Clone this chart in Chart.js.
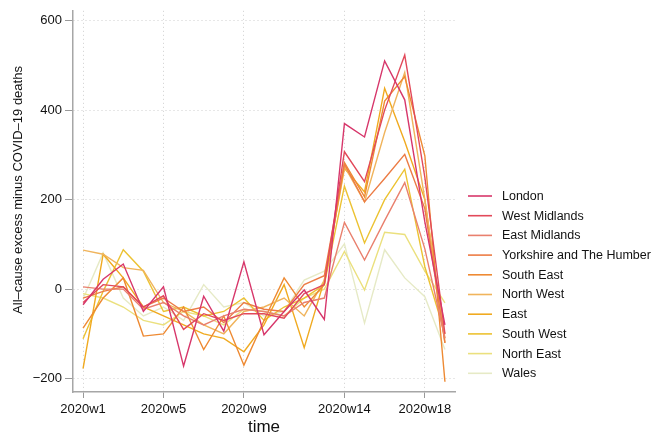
<!DOCTYPE html>
<html>
<head>
<meta charset="utf-8">
<script src="https://cdn.jsdelivr.net/npm/chart.js@4.4.1/dist/chart.umd.min.js"></script>
<style>
html,body{margin:0;padding:0;background:#fff;}
#wrap{width:660px;height:438px;position:relative;}
</style>
</head>
<body>
<div id="wrap"><canvas id="c" width="660" height="438"></canvas></div>
<script>
const weeks = [1,2,3,4,5,6,7,8,9,10,11,12,13,14,15,16,17,18,19];
const xTickValues = [1,5,9,14,18];
const yTickValues = [-200,0,200,400,600];
const yTitle = "All\u2013cause excess minus COVID\u201319 deaths";
const xTitle = "time";
const regions = ["London","West Midlands","East Midlands","Yorkshire and The Humber","South East","North West","East","South West","North East","Wales"];
const regionColors = ["#d7376b","#e2495a","#e9806e","#ec7c45","#ee8a33","#f0b45c","#f0aa20","#ecc232","#ebe07e","#e6eac6"];

const london       = [-35, 22, 56, -50, 5, -172, -16, -94, 61, -102, -50, -2, -68, 370, 340, 510, 423, 150, -80];
const westMidlands = [-30, 10, 5, -40, -15, -90, -55, -70, -55, -55, -65, -10, 10, 307, 240, 400, 523, 250, -100];
const eastMidlands = [5, 0, 0, -45, -30, -60, -80, -60, -45, -50, -60, -30, -20, 149, 65, 153, 238, 90, -110];
const yorkshire    = [-20, -5, 5, -40, -20, -50, -40, -75, -30, -45, -50, 10, 30, 280, 195, 247, 301, 180, -120];
const southEast    = [-87, -20, 25, -105, -100, -40, -135, -60, -170, -70, 25, -40, 10, 283, 206, 420, 475, 298, -207];
const northWest    = [87, 78, 48, 42, -30, -50, -80, -100, -50, -40, -20, -60, 20, 275, 195, 350, 484, 200, -110];
const east         = [-178, 78, 25, -40, -60, -80, -100, -110, -140, -80, 10, -131, 20, 270, 217, 449, 330, 200, -120];
const southWest    = [-111, -5, 88, 40, -50, -40, -60, -50, -20, -70, -40, -20, 10, 230, 103, 200, 268, 50, -100];
const northEast    = [-10, -20, -40, -70, -80, -50, -60, -80, -45, -50, -60, -20, 0, 84, -2, 127, 122, 40, -31];
const wales        = [-22, 81, -20, -60, -40, -70, 10, -40, -30, -60, -50, 20, 40, 101, -76, 88, 25, -17, -135];

const seriesValues = [london, westMidlands, eastMidlands, yorkshire, southEast, northWest, east, southWest, northEast, wales];

const FONT = "'Liberation Sans', Arial, Helvetica, sans-serif";

const datasets = regions.map((name, i) => ({
  label: name,
  data: weeks.map((w, j) => ({x: w, y: seriesValues[i][j]})),
  borderColor: regionColors[i],
  backgroundColor: regionColors[i],
  borderWidth: 1.4,
  pointRadius: 0,
  tension: 0,
  fill: false
}));

const decorPlugin = {
  id: 'decor',
  afterDraw(chart) {
    const ctx = chart.ctx;
    ctx.save();
    // legend
    ctx.font = "12.5px " + FONT;
    ctx.textBaseline = 'middle';
    ctx.textAlign = 'left';
    regions.forEach((name, i) => {
      const y = 196 + i * 19.7;
      ctx.strokeStyle = regionColors[i];
      ctx.lineWidth = 1.6;
      ctx.beginPath();
      ctx.moveTo(468, y);
      ctx.lineTo(492, y);
      ctx.stroke();
      ctx.fillStyle = '#111';
      ctx.fillText(name, 502, y + 0.5);
    });
    // y-axis title
    ctx.translate(18, 190);
    ctx.rotate(-Math.PI / 2);
    ctx.textAlign = 'center';
    ctx.font = "13px " + FONT;
    ctx.fillText(yTitle, 0, 0);
    ctx.restore();
  }
};

new Chart(document.getElementById('c'), {
  type: 'line',
  data: { datasets },
  options: {
    responsive: false,
    animation: false,
    devicePixelRatio: 1,
    layout: { padding: { left: 0, right: 205, top: 10, bottom: 0 } },
    plugins: { legend: { display: false }, tooltip: { enabled: false } },
    scales: {
      x: {
        type: 'linear',
        min: 0.5,
        max: 19.5,
        afterBuildTicks(scale) { scale.ticks = xTickValues.map(v => ({value: v})); },
        afterFit(scale) { scale.height = 46; },
        ticks: {
          callback: (v) => '2020w' + v,
          font: { family: FONT, size: 13 },
          color: '#111',
          padding: 4,
          maxRotation: 0,
          autoSkip: false
        },
        grid: { color: '#cfcfcf', lineWidth: 1, tickLength: 6, tickColor: '#999', tickWidth: 1 },
        border: { display: true, color: '#a6a6a6', width: 1.5, dash: [1, 3] },
        title: { display: true, text: xTitle, font: { family: FONT, size: 17 }, color: '#111', padding: { top: 0, bottom: 0 } }
      },
      y: {
        type: 'linear',
        min: -230,
        max: 622,
        afterBuildTicks(scale) { scale.ticks = yTickValues.map(v => ({value: v})); },
        afterFit(scale) { scale.width = 73; },
        ticks: {
          callback: (v) => v < 0 ? '\u2212' + Math.abs(v) : String(v),
          font: { family: FONT, size: 13 },
          color: '#111',
          padding: 3
        },
        grid: { color: '#cfcfcf', lineWidth: 1, tickLength: 8, tickColor: '#999', tickWidth: 1 },
        border: { display: true, color: '#a6a6a6', width: 1.5, dash: [1, 3] },
        title: { display: false }
      }
    }
  },
  plugins: [decorPlugin]
});
</script>
</body>
</html>
